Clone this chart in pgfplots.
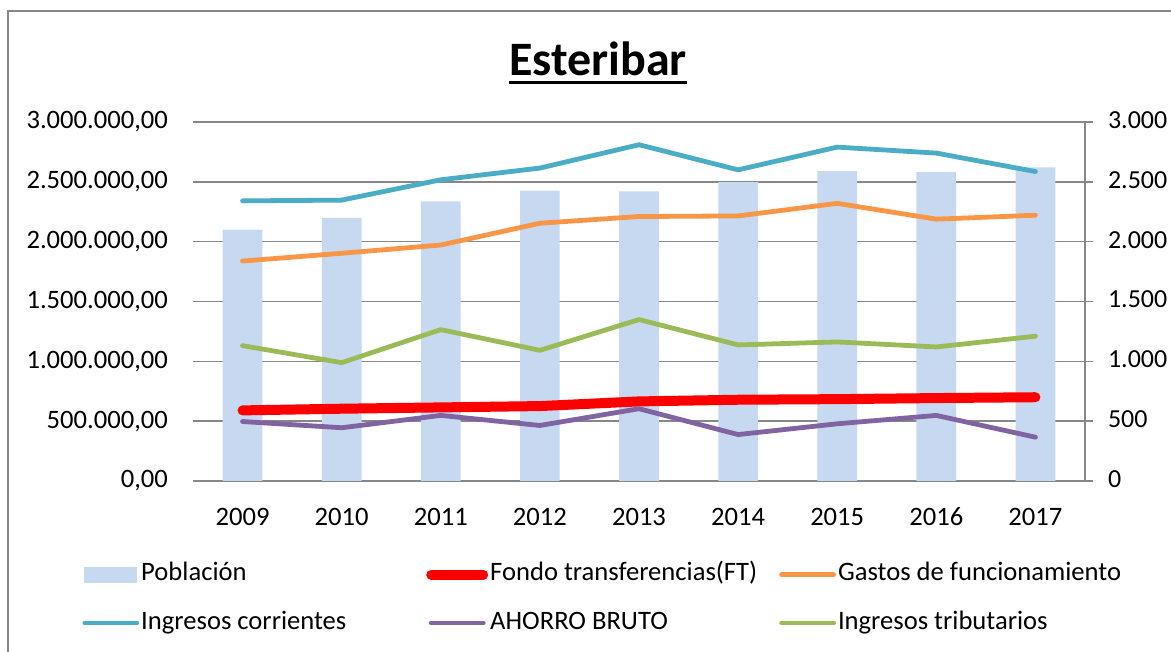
\documentclass[border=0pt]{standalone}
\usepackage{fontspec}
\setmainfont{Carlito}
\usepackage{pgfplots}
\pgfplotsset{compat=1.18}
\definecolor{barblue}{HTML}{C6D9F1}
\definecolor{icor}{HTML}{4BACC6}
\definecolor{gastos}{HTML}{F79646}
\definecolor{ahorro}{HTML}{8064A2}
\definecolor{tribut}{HTML}{9BBB59}
\definecolor{gridgray}{HTML}{878787}
\newcommand{\lw}[2][141.5pt]{\makebox[#1][l]{#2}}
\begin{document}
\begin{tikzpicture}
\path[use as bounding box] (0pt,0pt) rectangle (585.5pt,326pt);
\draw[gridgray, line width=0.8pt] (4pt,-10pt) -- (4pt,320.6pt) -- (600pt,320.6pt);
% title
\node[anchor=base, inner sep=0pt, font=\bfseries\fontsize{24}{29}\selectfont] (T) at (299pt,288.2pt) {Esteribar};
\draw[line width=1.65pt] ([yshift=-3.5pt]T.base west) -- ([yshift=-3.5pt]T.base east);
% population bars (right axis)
\begin{axis}[
  at={(96.5pt,85.5pt)}, anchor=south west,
  scale only axis, width=446pt, height=179.5pt,
  xmin=-0.5, xmax=8.5, ymin=0, ymax=3000,
  axis x line*=bottom, axis y line*=right,
  axis line style={gridgray, line width=0.8pt, -},
  xtick={0,1,2,3,4,5,6,7,8},
  xticklabels={2009,2010,2011,2012,2013,2014,2015,2016,2017},
  xtick style={draw=none},
  ytick={0,500,1000,1500,2000,2500,3000},
  ytick style={gridgray, line width=0.8pt},
  tick align=outside, major tick length=4pt,
  ymajorgrids, grid style={gridgray, line width=0.8pt},
  scaled y ticks=false,
  typeset ticklabels with strut,
  yticklabel style={xshift=4pt, font=\fontsize{13}{16}\selectfont, /pgf/number format/fixed, /pgf/number format/precision=0, /pgf/number format/1000 sep={.}, /pgf/number format/assume math mode=true},
  xticklabel style={yshift=-3.5pt, font=\fontsize{13.3}{16}\selectfont},
]
\addplot[ybar, bar width=19.85pt, fill=barblue, draw=none] coordinates {
(0,2101) (1,2198) (2,2337) (3,2426) (4,2420) (5,2498) (6,2590) (7,2582) (8,2621)};
\end{axis}
% money lines (left axis)
\begin{axis}[
  at={(96.5pt,85.5pt)}, anchor=south west,
  scale only axis, width=446pt, height=179.5pt,
  xmin=-0.5, xmax=8.5, ymin=0, ymax=3000000,
  axis x line=none, axis y line*=left,
  y axis line style={draw=none},
  ytick={0,500000,1000000,1500000,2000000,2500000,3000000},
  ytick style={draw=none},
  scaled y ticks=false,
  yticklabel style={xshift=-9pt, /pgf/number format/fixed, /pgf/number format/fixed zerofill, /pgf/number format/precision=2, /pgf/number format/use comma, /pgf/number format/1000 sep={.}, /pgf/number format/assume math mode=true},
  ticklabel style={font=\fontsize{13.3}{16}\selectfont},
  line join=round, line cap=round,
  legend columns=3,
  legend image code/.code={\draw[#1, line cap=round] (0pt,0pt) -- (26pt,0pt);},
  legend style={at={(axis description cs:-0.1244,-0.2237)}, anchor=north west,
    draw=none, fill=none, inner sep=0pt, row sep=11.15pt,
    font=\fontsize{13.3}{16}\selectfont,
    nodes={inner sep=1pt, text height=8.5pt, text depth=2.5pt},
    /tikz/every odd column/.append style={column sep=0pt},
    /tikz/every even column/.append style={column sep=0pt}},
]
\addlegendimage{legend image code/.code={\fill[barblue] (0pt,-3.75pt) rectangle (26pt,3.75pt);}}
\addlegendentry{\lw{Población}}
\addplot[red, line width=5pt] coordinates {
(0,590000) (1,604000) (2,615000) (3,626000) (4,665000) (5,679000) (6,684000) (7,693000) (8,700000)};
\addlegendentry{\lw[143.5pt]{Fondo transferencias(FT)}}
\addplot[gastos, line width=2.4pt] coordinates {
(0,1838000) (1,1903000) (2,1972000) (3,2154000) (4,2210000) (5,2215000) (6,2320000) (7,2188000) (8,2221000)};
\addlegendentry{\lw{Gastos de funcionamiento}}
\addplot[icor, line width=2.4pt] coordinates {
(0,2341000) (1,2347000) (2,2517000) (3,2615000) (4,2810000) (5,2600000) (6,2790000) (7,2740000) (8,2586000)};
\addlegendentry{\lw{Ingresos corrientes}}
\addplot[ahorro, line width=2.4pt] coordinates {
(0,497000) (1,445000) (2,548000) (3,464000) (4,604000) (5,388000) (6,478000) (7,548000) (8,366000)};
\addlegendentry{\lw[143.5pt]{AHORRO BRUTO}}
\addplot[tribut, line width=2.4pt] coordinates {
(0,1131000) (1,989000) (2,1265000) (3,1092000) (4,1349000) (5,1137000) (6,1162000) (7,1120000) (8,1210000)};
\addlegendentry{\lw{Ingresos tributarios}}
\end{axis}
\end{tikzpicture}
\end{document}
